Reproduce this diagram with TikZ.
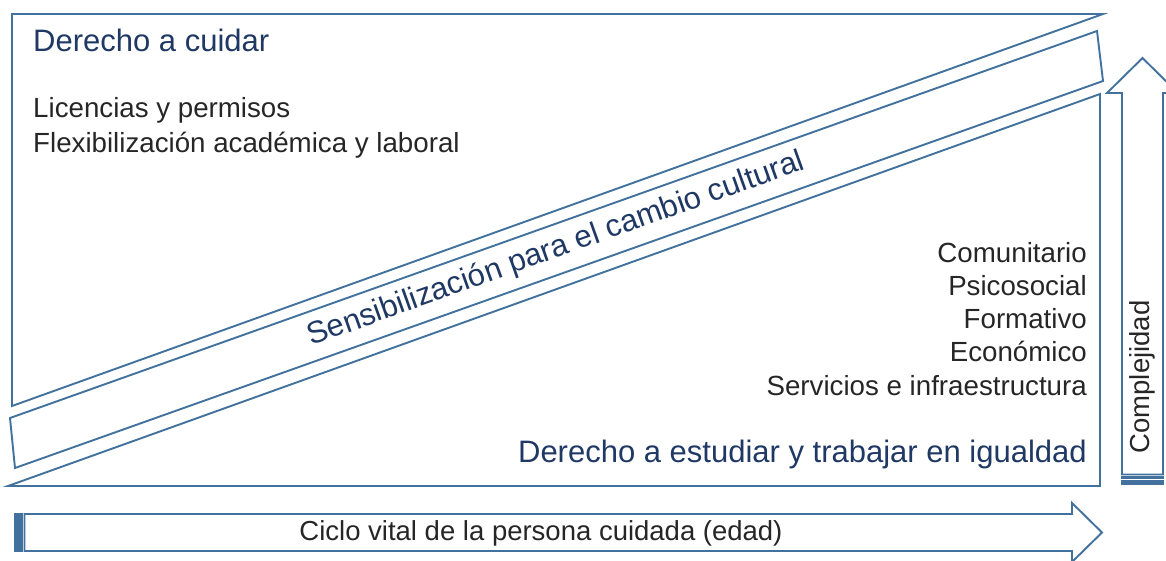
\documentclass[tikz,border=0pt]{standalone}
\usepackage{fontspec}
\setmainfont{Liberation Sans}
\definecolor{lc}{HTML}{41719C}
\definecolor{hdc}{HTML}{1F3864}
\definecolor{itc}{HTML}{262626}
\begin{document}
\begin{tikzpicture}[x=1pt,y=-1pt,
  shp/.style={draw=lc, line width=1.9pt, line join=miter},
  hd/.style={inner sep=0pt, text=hdc, font=\fontsize{31}{37}\selectfont},
  it/.style={inner sep=0pt, text=itc, font=\fontsize{27.7}{33}\selectfont},
  ar/.style={inner sep=0pt, text=itc, font=\fontsize{27.5}{33}\selectfont}]
\useasboundingbox (0,0) rectangle (1166,560);
\clip (0,0) rectangle (1166,560);
% top triangle
\draw[shp] (12,14) -- (1103,14) -- (12,406) -- cycle;
% band
\draw[shp] (10,418) -- (1097,31) -- (1103,81) -- (15,468) -- cycle;
% bottom triangle
\draw[shp] (8,486) -- (1100,94) -- (1100,486) -- cycle;
% horizontal striped arrow
\draw[shp, fill=lc] (15,514) rectangle (19,551);
\draw[shp] (21,514) rectangle (22,551);
\draw[shp] (24.5,514) -- (1072,514) -- (1072,503) -- (1102,532.5) -- (1072,562) -- (1072,551) -- (24.5,551) -- cycle;
% vertical striped arrow
\draw[shp] (1122,474.5) -- (1122,93) -- (1107,93) -- (1142.5,58) -- (1178,93) -- (1163,93) -- (1163,474.5) -- cycle;
\draw[shp] (1122,477) rectangle (1163,478.5);
\draw[shp, fill=lc] (1122,481) rectangle (1163,484);
% texts
\node[hd, anchor=base west] (dc) at (33,51) {Derecho a cuidar};
\node[it, anchor=base west] (l1) at (33,117) {Licencias y permisos};
\node[it, anchor=base west] (l2) at (33,152) {Flexibilización académica y laboral};
\node[hd, rotate=19.7] (sen) at (556,249.5) {Sensibilización para el cambio cultural};
\node[it, anchor=base east] (r1) at (1087,262) {Comunitario};
\node[it, anchor=base east] (r2) at (1087,295) {Psicosocial};
\node[it, anchor=base east] (r3) at (1087,328) {Formativo};
\node[it, anchor=base east] (r4) at (1087,361) {Económico};
\node[it, anchor=base east] (r5) at (1087,395) {Servicios e infraestructura};
\node[hd, anchor=base east] (de) at (1087,462) {Derecho a estudiar y trabajar en igualdad};
\node[ar, anchor=base] (ciclo) at (541,540) {Ciclo vital de la persona cuidada (edad)};
\node[ar, rotate=90] (comp) at (1142,377) {Complejidad};
\end{tikzpicture}
\end{document}
